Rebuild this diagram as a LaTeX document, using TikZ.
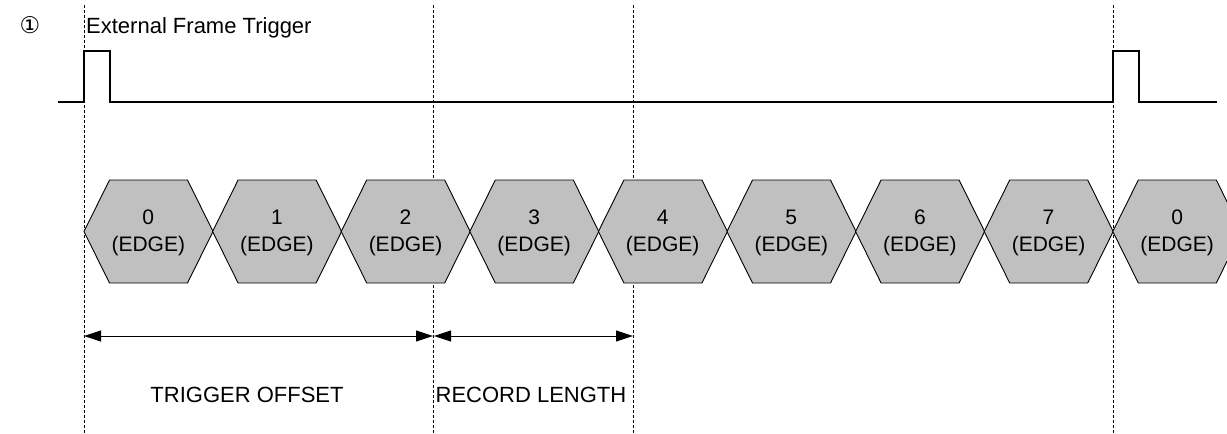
\documentclass[tikz,border=0pt]{standalone}
\usepackage{fontspec}
\setmainfont{Liberation Sans}
\newfontfamily\symfont{DejaVu Sans}
\usepackage{tikz}
\usetikzlibrary{arrows.meta, positioning, calc}
\definecolor{framegray}{RGB}{192, 192, 192}

\tikzset{
  guide/.style={line width=0.8pt, dash pattern=on 3pt off 2pt},
  wave/.style={line width=1.2pt},
  framebox/.style={draw=black, line width=0.9pt, fill=framegray},
  framelbl/.style={align=center, font=\fontsize{21}{27}\selectfont, inner sep=0pt},
  span/.style={{Triangle[length=17pt,width=11pt]}-{Triangle[length=17pt,width=11pt]}, line width=1pt},
  caption/.style={font=\fontsize{22}{26}\selectfont, inner sep=0pt}
}

\begin{document}
\begin{tikzpicture}[x=1pt, y=-1pt]
            \useasboundingbox (0,0) rectangle (1227,434);

            % guide lines
            \foreach \gx [count=\g] in {84, 433, 633, 1113} {
                \coordinate (top\g) at (\gx,5);
                \coordinate (bot\g) at (\gx,434);
                \draw[guide] (top\g) -- (bot\g);
            }

            % trigger signal
            \node[font=\symfont\fontsize{23}{25}\selectfont, inner sep=0pt] (mark) at (30,25.5) {①};
            \node[caption, anchor=base west] (trig) at (86,33.3) {External Frame Trigger};
            \draw[wave] (58,102) -- (84,102) -- (84,51) -- (110,51) -- (110,102) -- (1113,102)
                -- (1113,51) -- (1139,51) -- (1139,102) -- (1217,102);

            % frames
            \foreach \n [count=\i from 0] in {0,1,2,3,4,5,6,7,0} {
                \draw[framebox] ({84+128.6*\i},231.5) -- ++(25.5,-51.5) -- ++(78,0) -- ++(25.5,51.5)
                    -- ++(-25.5,51.5) -- ++(-78,0) -- cycle;
                \node[framelbl] (f\i) at ({148.3+128.6*\i},232.5) {\n\\(EDGE)};
            }

            % spans
            \coordinate (s1) at (84,336);
            \coordinate (s2) at (433,336);
            \coordinate (s3) at (434,336);
            \coordinate (s4) at (633,336);
            \draw[span] (s1) -- (s2);
            \draw[span] (s3) -- (s4);
            \node[caption] (offset) at (247,395) {TRIGGER OFFSET};
            \node[caption] (length) at (531,395) {RECORD LENGTH};
        \end{tikzpicture}
\end{document}
